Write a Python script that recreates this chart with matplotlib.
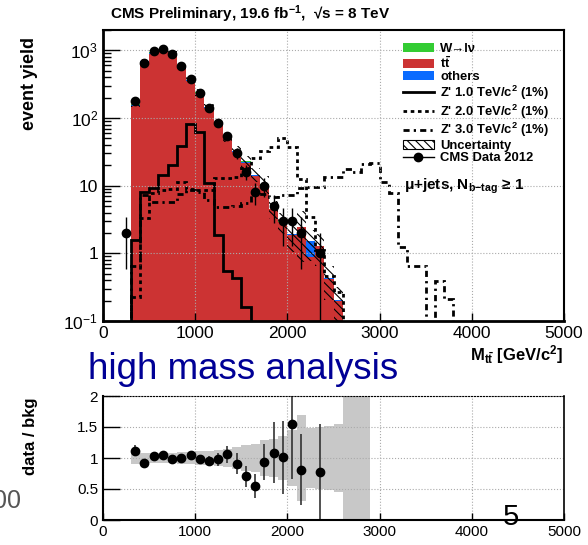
import numpy as np
import matplotlib.pyplot as plt
from matplotlib.patches import Patch
from matplotlib.lines import Line2D
from matplotlib.ticker import FixedLocator, FixedFormatter, LogLocator, NullFormatter

plt.rcParams['font.family'] = ['Liberation Sans', 'DejaVu Sans']
plt.rcParams['mathtext.fontset'] = 'custom'
plt.rcParams['mathtext.rm'] = 'Liberation Sans'
plt.rcParams['mathtext.it'] = 'Liberation Sans:italic'
plt.rcParams['mathtext.bf'] = 'Liberation Sans:bold'
plt.rcParams['hatch.linewidth'] = 0.8

# background stack, 100 GeV bins from 300 to 2600 GeV
bkg_edges = np.arange(300, 2700, 100)
ttbar = [150, 666, 892, 972, 862, 567, 351, 231, 140.8, 82.7, 50, 31.7, 21.8,
         14.1, 9.7, 4.45, 2.9, 1.89, 2.42, 0.87, 1.27, 0.42, 0.2]
others = [8, 25, 30, 30, 25, 18, 11, 7, 4, 2.5, 1.5, 1.0, 0.8,
          0.4, 0.2, 0.1, 0.05, 0.03, 0.03, 0.63, 0.02, 0.01, 0.005]
wjets = [2, 6, 8, 8, 7, 5, 3, 2, 1.2, 0.8, 0.5, 0.3, 0.2,
         0.1, 0.8, 0.05, 0.02, 0.01, 0.01, 0.005, 0.005, 0.002, 0.001]
unc_rel = [0.10, 0.086, 0.086, 0.086, 0.086, 0.09, 0.10, 0.11, 0.115, 0.13, 0.15, 0.18, 0.215,
           0.23, 0.29, 0.31, 0.35, 0.45, 0.70, 0.49, 0.50, 0.52, 0.55]

# data
data_x = [250, 350, 450, 550, 650, 750, 850, 950, 1050, 1150, 1250, 1350, 1450,
          1550, 1650, 1750, 1850, 1950, 2050, 2150, 2350]
data_y = [2, 179, 645, 967, 1060, 885, 590, 380, 238, 140, 84, 55, 30,
          16, 8, 10, 5, 3, 3, 2, 1]

# Z' signals (100 GeV bins starting at 300 GeV)
z1 = [1.55, 8.1, 9.2, 14.3, 20.4, 39, 83, 63, 11, 1.89, 0.55, 0.43, 0.16]
z2 = [0.23, 3.3, 7.7, 8.6, 9.0, 11.5, 9.0, 8.5, 8.5, 13, 13, 13.5, 18,
      26, 33, 37, 50, 37, 12.6, 3.5, 1.12, 0.46, 0.27]
z3 = [0.65, 7.2, 5.7, 5.8, 5.8, 7.5, 8.5, 8.0, 6.2, 4.9, 4.9, 5.0, 5.5,
      7.5, 7.5, 6.8, 7.2, 7.2, 9.1, 9.5, 9.5, 13.4, 13.4, 17.7, 16, 21, 21.5,
      11.3, 7.7, 1.26, 0.64, 0.64, 0, 0.39, 0.21]

c_tt = '#cc3333'
c_oth = '#0a6bff'
c_w = '#33cc33'

fig = plt.figure(figsize=(5.88, 5.45), dpi=100)
W, H = 588, 545
ax = fig.add_axes([103 / W, 1 - 321 / H, 461 / W, 291 / H])
ax2 = fig.add_axes([103 / W, 1 - 520 / H, 461 / W, 124 / H])

ttbar = np.array(ttbar)
s1 = ttbar
s2 = s1 + np.array(others)
s3 = s2 + np.array(wjets)
rel = np.array(unc_rel)

ax.stairs(s3, bkg_edges, baseline=s2, fill=True, color=c_w, lw=0)
ax.stairs(s2, bkg_edges, baseline=s1, fill=True, color=c_oth, lw=0)
ax.stairs(s1, bkg_edges, baseline=1e-3, fill=True, color=c_tt, lw=0)
ax.stairs(s3 * (1 + rel), bkg_edges, baseline=s3 * (1 - rel), fill=False,
          hatch='\\\\\\\\', edgecolor='k', lw=0)

def sig(vals, ls):
    v = np.clip(np.array(vals, dtype=float), 1e-3, None)
    e = np.arange(300, 300 + 100 * (len(v) + 1), 100)
    v = np.concatenate([[1e-3], v, [1e-3]])
    e = np.concatenate([[0], e, [5000]])
    ax.stairs(v, e, baseline=None, color='k', lw=2, ls=ls)

sig(z1, '-')
sig(z2, (0, (1.3, 1.3)))
sig(z3, (0, (2.2, 1.5, 0.8, 1.5)))

dy = np.array(data_y, dtype=float)
err = np.sqrt(dy)
lo = np.minimum(err, dy - 1e-3)
ax.errorbar(data_x, dy, yerr=[lo, err], fmt='o', color='k', ms=6, elinewidth=1, capsize=0)

ax.set_yscale('log')
ax.set_xlim(0, 5000)
ax.set_ylim(0.1, 2000)
ax.yaxis.set_major_locator(FixedLocator([0.1, 1, 10, 100, 1000]))
ax.yaxis.set_major_formatter(FixedFormatter([r'$\mathregular{10^{-1}}$', '1', '10',
                                             r'$\mathregular{10^{2}}$', r'$\mathregular{10^{3}}$']))
ax.yaxis.set_minor_locator(LogLocator(base=10, subs=np.arange(2, 10)))
ax.yaxis.set_minor_formatter(NullFormatter())
ax.set_xticks([0, 1000, 2000, 3000, 4000, 5000])
ax.tick_params(axis='both', which='major', direction='in', labelsize=12.5, length=12, width=1)
ax.tick_params(axis='y', which='minor', direction='in', length=6, width=1)
ax.tick_params(axis='x', which='major', length=6)
ax.grid(True, which='major', ls=':', color='#aaaaaa', lw=0.8)
for s in ax.spines.values():
    s.set_linewidth(1.5)
ax.spines['left'].set_linewidth(2)
ax.spines['bottom'].set_linewidth(2)

handles = [Patch(facecolor=c_w, edgecolor='none'),
           Patch(facecolor=c_tt, edgecolor='none'),
           Patch(facecolor=c_oth, edgecolor='none'),
           Line2D([], [], color='k', lw=2),
           Line2D([], [], color='k', lw=2, ls=(0, (1.3, 1.3))),
           Line2D([], [], color='k', lw=2, ls=(0, (2.2, 1.5, 0.8, 1.5))),
           Patch(facecolor='white', edgecolor='k', hatch='\\\\\\\\', lw=0.8),
           Line2D([], [], color='k', lw=1, marker='o', ms=6)]
labels = ['W→lν', r'$\mathbf{t\bar{t}}$', 'others',
          r"Z' 1.0 TeV/c$^{\mathbf{2}}$ (1%)", r"Z' 2.0 TeV/c$^{\mathbf{2}}$ (1%)",
          r"Z' 3.0 TeV/c$^{\mathbf{2}}$ (1%)", 'Uncertainty', 'CMS Data 2012']
fig.legend(handles, labels, loc='upper left', bbox_to_anchor=(396 / W, 1 - 36 / H),
           frameon=False, borderpad=0, handlelength=2.4, handletextpad=0.5,
           labelspacing=0.03, prop={'weight': 'bold', 'size': 9.4})

fig.text(404 / W, 1 - 186 / H, r'μ+jets, N$_{\mathbf{b{-}tag}}$ ≥ 1', ha='left', va='center',
         fontsize=11, fontweight='bold')

# ratio panel
ratio_x = np.array(data_x[1:])
idx = (ratio_x - 300) // 100
ratio = dy[1:] / s3[idx]
ratio_err = err[1:] / s3[idx]

ax2.stairs(1 + rel, bkg_edges, baseline=1 - rel, fill=True, color='#c8c8c8', lw=0)
ax2.stairs([3, 3, 3], [2600, 2700, 2800, 2900], baseline=-1, fill=True, color='#c8c8c8', lw=0)
ax2.errorbar(ratio_x, ratio, yerr=ratio_err, fmt='o', color='k', ecolor='#333333',
             ms=6, elinewidth=1.2, capsize=0)
ax2.set_xlim(0, 5000)
ax2.set_ylim(0, 2)
ax2.set_yticks([0, 0.5, 1, 1.5, 2])
ax2.set_yticklabels(['0', '0.5', '1', '1.5', '2'])
ax2.set_xticks([0, 1000, 2000, 3000, 4000, 5000])
ax2.tick_params(axis='both', which='major', direction='in', labelsize=11, length=12, width=1)
ax2.tick_params(axis='x', which='major', length=5)
ax2.grid(True, which='major', ls=':', color='#aaaaaa', lw=0.8)
ax2.spines['left'].set_linewidth(1.5)
ax2.spines['bottom'].set_linewidth(1.5)
ax2.spines['right'].set_linewidth(1.2)
ax2.spines['top'].set_linewidth(0.8)
ax2.spines['top'].set_linestyle(':')

fig.text(110 / W, 1 - 14 / H, r'CMS Preliminary, 19.6 fb$^{\mathbf{-1}}$,  √s = 8 TeV',
         ha='left', va='center', fontsize=11, fontweight='bold')
fig.text(30 / W, 1 - 84 / H, 'event yield', rotation=90, ha='center', va='center',
         fontsize=13, fontweight='bold')
fig.text(563 / W, 1 - 355 / H, r'M$_{\mathbf{t\bar{t}}}$ [GeV/c$^{\mathbf{2}}$]', ha='right',
         va='center', fontsize=12, fontweight='bold')
fig.text(243 / W, 1 - 379 / H, 'high mass analysis', ha='center', va='baseline',
         fontsize=26.5, color='#000096')
fig.text(30 / W, 1 - 436 / H, 'data / bkg', rotation=90, ha='center', va='center',
         fontsize=12, fontweight='bold')
fig.text(21 / W, 1 - 501 / H, '00', ha='right', va='center', fontsize=18, color='#555555')
fig.text(511 / W, 1 - 517 / H, '5', ha='center', va='center', fontsize=21)

fig.savefig('out.png', dpi=100)
